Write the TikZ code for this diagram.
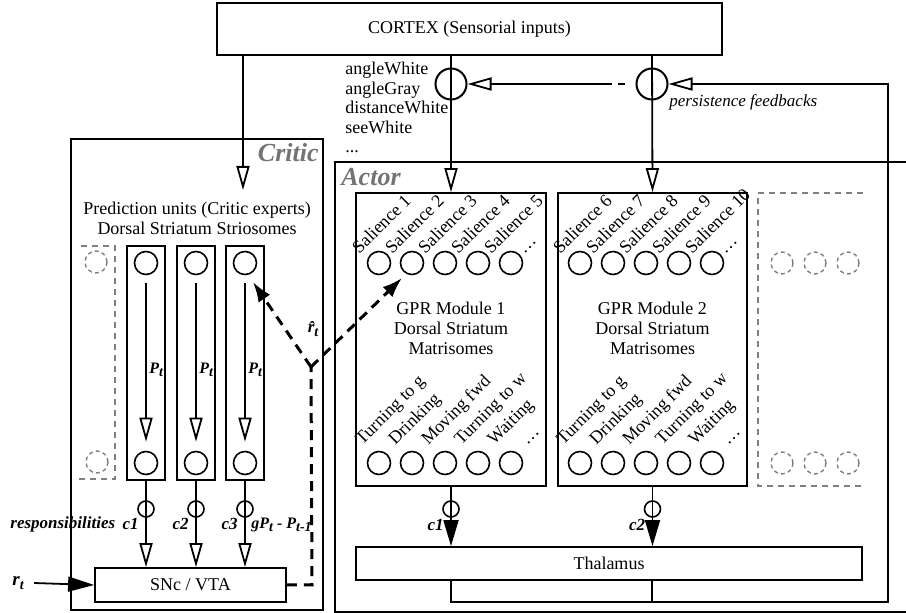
\documentclass[tikz,border=0pt]{standalone}
\usepackage{fontspec}
\setmainfont{Liberation Serif}
\usetikzlibrary{arrows.meta}
\newcommand{\lowidx}[2]{#1\raisebox{-0.5ex}{\scriptsize #2}}

\begin{document}
\begin{tikzpicture}[x=0.5pt,y=-0.5pt,
    font=\fontsize{9}{10}\selectfont,
    box/.style={draw,line width=0.9pt,inner sep=0pt},
    outer/.style={draw,line width=0.7pt,inner sep=0pt},
    unit/.style={draw,circle,line width=0.8pt,minimum size=11.5pt,inner sep=0pt},
    ghost/.style={draw=gray,circle,line width=0.7pt,dash pattern=on 2pt off 1.6pt,minimum size=11pt,inner sep=0pt},
    ghostline/.style={draw=gray,line width=0.7pt,dash pattern=on 3pt off 2.5pt},
    gate/.style={draw,circle,line width=1pt,minimum size=15.5pt,inner sep=0pt},
    smallgate/.style={draw,circle,line width=0.8pt,minimum size=8pt,inner sep=0pt},
    wire/.style={line width=0.9pt},
    opentip/.style={wire,-{Triangle[open,length=12pt,width=6.5pt]}},
    filltip/.style={wire,-{Triangle[length=13pt,width=7.5pt]}},
    tdpath/.style={line width=1.5pt,dash pattern=on 5pt off 3.5pt},
    groupname/.style={font=\fontsize{13}{13}\selectfont\bfseries\itshape,text=black!55,inner sep=0pt},
    sig/.style={font=\fontsize{8.5}{9}\selectfont\bfseries\itshape,inner sep=1pt},
    rotlbl/.style={rotate=45,anchor=base west,inner sep=0pt}
  ]
  \useasboundingbox (0,0) rectangle (906,613);
  \clip (0,0) rectangle (906,613);

  % cortex on top
  \node[box,minimum width=252.5pt,minimum height=26pt] (cortex) at (469.5,29) {CORTEX (Sensorial inputs)};
  \node[align=left,anchor=north west,inner sep=0pt,font=\fontsize{9}{9.75}\selectfont] (cortexvars) at (345,62)
    {angleWhite\\angleGray\\distanceWhite\\seeWhite\\...};

  % critic part
  \node[outer,minimum width=126pt,minimum height=235.5pt] (critic) at (197,374.5) {};
  \node[groupname,anchor=north east] (critictxt) at (319,143) {Critic};
  \coordinate (critin) at (243,190);
  \draw[opentip] (cortex.south -| critin) -- (critin);
  \node[align=center,font=\fontsize{9}{10}\selectfont] (predtxt) at (197,218)
    {Prediction units (Critic experts)\\Dorsal Striatum Striosomes};

  % more experts (not shown)
  \draw[ghostline] (81,246) -- (115,246) -- (115,479) -- (78,479);
  \node[ghost] (gtop) at (96,262) {};
  \node[ghost] (gbot) at (97,462) {};

  \node[box,minimum width=95.5pt,minimum height=17pt] (snc) at (190.5,585) {SNc / VTA};

  \foreach \k/\x in {1/146,2/196,3/245}{
    \node[box,minimum width=19pt,minimum height=117pt] (str\k) at (\x,363) {};
    \node[unit] (top\k) at (\x,263) {};
    \node[unit] (bot\k) at (\x,463) {};
    \draw[opentip,shorten <=4pt,shorten >=4.5pt] (top\k) -- (bot\k);
    \node[sig,anchor=west,inner sep=0pt,font=\fontsize{8}{9}\selectfont\bfseries\itshape] (pt\k) at (\x+3,370) {\lowidx{P}{t}};
    \node[smallgate] (resp\k) at (\x,509) {};
    \draw[opentip] (str\k.south) -- (str\k.south |- snc.north);
    \node[sig,anchor=east] (c\k) at (\x-5,524) {c\k};
  }
  \node[sig,anchor=west] (resptxt) at (8,524) {responsibilities};
  \node[sig,anchor=west,font=\fontsize{8}{9}\selectfont\bfseries\itshape] (tdtxt) at (249,525) {g\lowidx{P}{t} - \lowidx{P}{t-1}};

  % reward and td error
  \node[sig,font=\fontsize{9.5}{10}\selectfont\bfseries\itshape] (rt) at (18,583) {\lowidx{r}{t}};
  \draw[filltip] (rt.east) ++(4pt,0) -- (snc.west);
  \coordinate (tdcorner) at (312,585);
  \coordinate (tdsplit) at (311,367);
  \coordinate (tdcritic) at (253,282);
  \coordinate (tdactor) at (402,278);
  \draw[tdpath] (snc.east) -- (tdcorner) -- (tdsplit);
  \draw[tdpath,-{Latex[length=10pt,width=7pt]}] (tdsplit) -- (tdcritic);
  \draw[tdpath,-{Latex[length=10pt,width=7pt]}] (tdsplit) -- (tdactor);
  \node[sig] (rhat) at (313,329) {\lowidx{\^{r}}{t}};

  % actor part
  \node[outer,minimum width=295pt,minimum height=225pt] (actor) at (630,387) {};
  \node[groupname,anchor=north west] (actortxt) at (341,168) {Actor};

  \node[box,minimum width=95pt,minimum height=146.5pt] (mod1) at (451,339.5) {};
  \node[box,minimum width=94.5pt,minimum height=146.5pt] (mod2) at (652.5,339.5) {};
  \node[align=center] (mod1txt) at (451,328) {GPR Module 1\\Dorsal Striatum\\Matrisomes};
  \node[align=center] (mod2txt) at (652.5,328) {GPR Module 2\\Dorsal Striatum\\Matrisomes};

  \foreach \m/\x in {1/346,2/547}{
    \foreach \i in {1,2,3,4,5}{
      \node[unit] (sal\m-\i) at (\x+33*\i,263) {};
      \node[unit] (act\m-\i) at (\x+33*\i,463) {};
    }
    \foreach \t [count=\i] in {Turning to g,Drinking,Moving fwd,Turning to w,Waiting,\dots}
      \node[rotlbl] (actlbl\m-\i) at (\x+33*\i-17,446) {\t};
  }
  \foreach \t [count=\i] in {Salience 1,Salience 2,Salience 3,Salience 4,Salience 5,\dots}
    \node[rotlbl] (sallbl1-\i) at (346+33*\i-20,255) {\t};
  \foreach \t [count=\i] in {Salience 6,Salience 7,Salience 8,Salience 9,Salience 10,\dots}
    \node[rotlbl] (sallbl2-\i) at (547+33*\i-20,255) {\t};

  % more modules (not shown)
  \draw[ghostline] (863,193) -- (758,193) -- (758,486) -- (863,486);
  \foreach \i/\x in {1/782,2/815,3/848}{
    \node[ghost] (gsal\i) at (\x,263) {};
    \node[ghost] (gact\i) at (\x,463) {};
  }

  % persistence gates
  \node[gate] (p1) at (451,84) {};
  \node[gate] (p2) at (652,84) {};
  \draw[opentip] (cortex.south -| p1) -- (mod1.north);
  \draw[opentip] (cortex.south -| p2) -- (mod2.north);
  \coordinate (gapstart) at (600,84);
  \draw[opentip] (gapstart) -- (p1.east);
  \draw[wire,dash pattern=on 6pt off 3pt on 3.5pt off 10pt] (gapstart) -- (p2.west);
  \node[font=\fontsize{8.5}{9}\selectfont\itshape,anchor=west,inner sep=0pt] (pfbtxt) at (669,102) {persistence feedbacks};

  \node[box,minimum width=253pt,minimum height=16.5pt] (thal) at (609,563.5) {Thalamus};
  \coordinate (outrow) at (0,509);
  \coordinate (outlbl) at (0,525);
  \foreach \k/\m in {1/mod1,2/mod2}{
    \node[smallgate] (out\k) at (\m.south |- outrow) {};
    \draw[filltip] (\m.south) -- (\m.south |- thal.north);
    \node[sig,anchor=east] (oc\k) at ([xshift=-2.5pt]\m.south |- outlbl) {c\k};
  }

  % feedback loop
  \coordinate (fbcorner) at (888,602);
  \draw[wire] (thal.south -| p2) -- (p2 |- fbcorner);
  \draw[opentip] (thal.south -| p1) -- (p1 |- fbcorner) -- (fbcorner) -- (fbcorner |- p2) -- (p2.east);
\end{tikzpicture}
\end{document}
